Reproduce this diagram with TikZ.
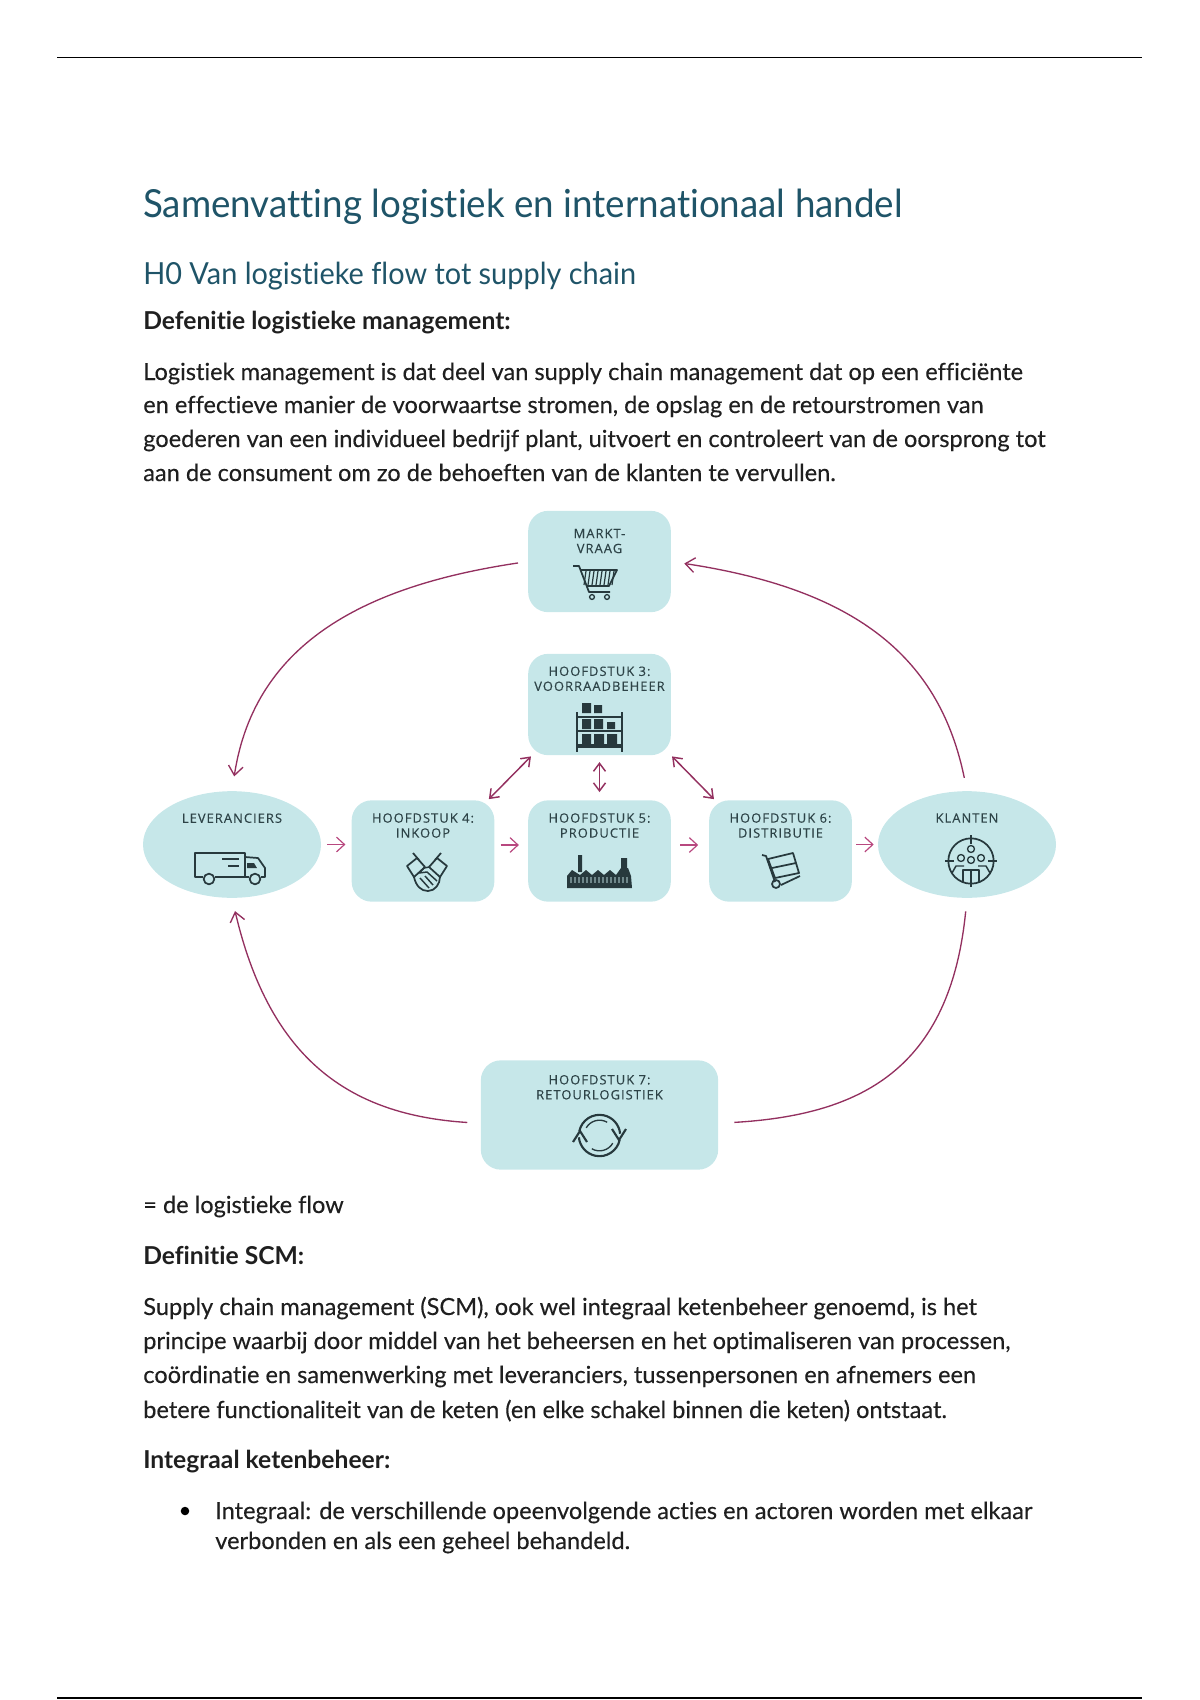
\documentclass[tikz,border=0pt]{standalone}
\usepackage{fontspec}
\setmainfont[Ligatures=NoCommon]{Lato}
\newfontfamily\bodyfont[Ligatures=NoCommon,FakeBold=0.25]{Lato}
\newfontfamily\titlefont[Ligatures=NoCommon,FakeStretch=0.95]{Lato}
\newfontfamily\labelfont[LetterSpace=8,FakeBold=0.25]{Open Sans}
\usepackage{xcolor}
\usetikzlibrary{arrows.meta, positioning, shapes.geometric}
\definecolor{headblue}{HTML}{1F5468}
\definecolor{boxteal}{HTML}{C6E7E9}
\definecolor{flowred}{HTML}{93305F}
\definecolor{stepred}{HTML}{B8487F}
\definecolor{icondark}{HTML}{27393D}
\definecolor{labeldark}{HTML}{2D4347}
\tikzset{
  bodyline/.style={anchor=base west,inner sep=0,text=black!88,font=\bodyfont\fontsize{17.7}{20}\selectfont},
  boldline/.style={bodyline,font=\fontsize{18.5}{20}\selectfont\bfseries},
  headline/.style={bodyline,text=headblue},
  stepbox/.style={draw=none,fill=boxteal,rounded corners=15pt,inner sep=0,minimum width=107pt,minimum height=76pt},
  roundnode/.style={ellipse,fill=boxteal,inner sep=0,minimum width=133.5pt,minimum height=80pt},
  boxlabel/.style={inner sep=0,align=center,text=labeldark,font=\labelfont\fontsize{9.7}{11.25}\selectfont},
  flowarrow/.style={-{Straight Barb[length=7pt,width=11pt]},flowred,line width=1pt},
  sidearrow/.style={{Straight Barb[length=6pt,width=9pt]}-{Straight Barb[length=6pt,width=9pt]},flowred,line width=1.1pt},
  steparrow/.style={-{Straight Barb[length=6pt,width=11pt]},stepred,line width=0.9pt},
  icon/.style={draw=icondark,line width=1.3pt,line join=round},
  iconfill/.style={fill=icondark,draw=none}
}
\begin{document}
\begin{tikzpicture}[x=0.75pt,y=-0.75pt]
  \useasboundingbox (0,0) rectangle (1200,1700);
  % page rules
  \draw[line width=1.4pt] (57,57.5)--(1142,57.5);
  \draw[line width=1.4pt] (57,1698)--(1142,1698);
  % headings
  \node[headline,font=\titlefont\fontsize{29}{34}\selectfont] (title) at (143,217) {Samenvatting logistiek en internationaal handel};
  \node[headline,font=\titlefont\fontsize{22.8}{28}\selectfont] (subtitle) at (143,284) {H0 Van logistieke flow tot supply chain};
  \node[boldline] (defone) at (143,329.5) {Defenitie logistieke management:};
  % first paragraph
  \node[bodyline] (paraa) at (143,380) {Logistiek management is dat deel van supply chain management dat op een efficiënte};
  \node[bodyline] (parab) at (143,413) {en effectieve manier de voorwaartse stromen, de opslag en de retourstromen van};
  \node[bodyline] (parac) at (143,447) {goederen van een individueel bedrijf plant, uitvoert en controleert van de oorsprong tot};
  \node[bodyline] (parad) at (143,481) {aan de consument om zo de behoeften van de klanten te vervullen.};
  % boxes
  \node[stepbox] (markt) at (599.5,561.5) {};
  \node[stepbox] (voorraad) at (599.5,704.5) {};
  \node[stepbox] (inkoop) at (423,851) {};
  \node[stepbox] (productie) at (599.5,851) {};
  \node[stepbox] (distributie) at (780.5,851) {};
  \node[stepbox,minimum width=178pt,minimum height=82pt] (retour) at (599.5,1115) {};
  \node[roundnode] (leveranciers) at (232,844.5) {};
  \node[roundnode] (klanten) at (967,844.5) {};
  % box labels
  \node[boxlabel,below=13.5pt of markt.north] (marktlabel) {MARKT-\\VRAAG};
  \node[boxlabel,below=9.5pt of voorraad.north] (voorraadlabel) {HOOFDSTUK 3:\\VOORRAADBEHEER};
  \node[boxlabel,below=9.7pt of inkoop.north] (inkooplabel) {HOOFDSTUK 4:\\INKOOP};
  \node[boxlabel,below=9.7pt of productie.north] (productielabel) {HOOFDSTUK 5:\\PRODUCTIE};
  \node[boxlabel,below=9.7pt of distributie.north] (distributielabel) {HOOFDSTUK 6:\\DISTRIBUTIE};
  \node[boxlabel,below=11pt of retour.north] (retourlabel) {HOOFDSTUK 7:\\RETOURLOGISTIEK};
  \node[boxlabel,below=16.7pt of leveranciers.north] (leverancierslabel) {LEVERANCIERS};
  \node[boxlabel,below=16.7pt of klanten.north] (klantenlabel) {KLANTEN};
  % long flow
  \draw[flowarrow,shorten <=7.5pt,shorten >=11pt] (markt.west) .. controls (370,585) and (255,640) .. (leveranciers.north);
  \draw[flowarrow,shorten <=10pt,shorten >=10pt] (klanten.north) .. controls (940,660) and (860,590) .. (markt.east);
  \draw[flowred,line width=1pt,shorten <=10pt,shorten >=12pt] (klanten.south) .. controls (950,1070) and (860,1115) .. (retour.-4);
  \draw[flowarrow,shorten <=10pt,shorten >=10pt] (retour.184) .. controls (350,1115) and (270,1060) .. (leveranciers.south);
  % short arrows in the row
  \draw[steparrow,shorten <=4.5pt,shorten >=4.5pt] (leveranciers.east) -- (leveranciers.east -| inkoop.west);
  \draw[steparrow,shorten <=4.5pt,shorten >=6.75pt] ([yshift=4.5pt]inkoop.east) -- ([yshift=4.5pt]productie.west);
  \draw[steparrow,shorten <=6.75pt,shorten >=8pt] ([yshift=4.5pt]productie.east) -- ([yshift=4.5pt]distributie.west);
  \draw[steparrow,shorten <=3pt,shorten >=3pt] (klanten.west -| distributie.east) -- (klanten.west);
  % to and from the stock box
  \draw[sidearrow,shorten <=5pt,shorten >=6pt] (voorraad) -- (productie);
  \draw[sidearrow,shorten <=1pt,shorten >=1pt] ([xshift=-5pt]inkoop.north east) -- ([xshift=3pt]voorraad.south west);
  \draw[sidearrow,shorten <=1pt,shorten >=1pt] ([xshift=4.5pt]distributie.north west) -- (voorraad.south east);
  % cart
  \draw[icon] (573,566)--(579,566)--(589,592)--(610,592);
  \draw[icon] (581,570)--(617,570)--(609,586)--(586,586);
  \foreach \hx in {586,590,594,598,602,606,610,614}
    \draw[icon,line width=0.9pt] (\hx,571)--(\hx-2,585);
  \draw[icon,line width=1pt] (592,597) circle (1.8pt) (607,597) circle (1.8pt);
  % shelf
  \draw[icon,line width=1.6pt] (577,712)--(577,752) (622,712)--(622,752);
  \draw[icon,line width=1.5pt] (577,717)--(622,717) (577,731)--(622,731);
  \draw[icon,line width=2.6pt] (577,746)--(622,746);
  \fill[iconfill] (582,703) rectangle (591,713) (594,705) rectangle (602,713)
    (582,719) rectangle (591,729) (594,719) rectangle (603,729) (607,722) rectangle (615,729)
    (582,734) rectangle (591,745) (594,734) rectangle (604,745) (607,734) rectangle (617,745);
  % truck
  \draw[icon] (245,877)--(245,853)--(195,853)--(195,877)--(203,877) (215,877)--(249,877);
  \draw[icon] (245,857)--(258,858)--(265,868)--(265,877)--(261,877);
  \fill[iconfill] (247,863)--(254,863)--(257,868)--(247,868)--cycle;
  \draw[icon] (222,859)--(239,859) (228,866)--(239,866);
  \draw[icon] (209,879) circle (4pt) (255,879) circle (4pt);
  % handshake
  \draw[icon] (413,853)--(419,860) (441,853)--(435,860);
  \draw[icon] (407,866)--(417,858)--(425,867)--(414,877)--cycle;
  \draw[icon] (447,866)--(437,858)--(429,867)--(440,877)--cycle;
  \draw[icon] (414,877) .. controls (416,886) and (421,891) .. (428,891) .. controls (435,891) and (440,884) .. (440,877);
  \draw[icon,line width=1.1pt] (425,867)--(419,873)--(427,872)--(437,881) (429,867)--(424,868) (420,878)--(429,888) (425,876)--(433,885);
  % factory
  \fill[iconfill] (578,855) rectangle (582,872) (621,858) rectangle (627,872);
  \fill[iconfill] (567,876)--(572,870)--(580,875)--(586,870)--(592,875)--(598,870)--(604,875)--(610,870)--(616,875)--(621,868)--(628,868)--(631,876)--(632,888)--(567,888)--cycle;
  \foreach \fx in {571,575,579,583,587,591,595,599,603,607,611,615,619,623,627}
    \draw[boxteal!45!icondark,line width=0.8pt] (\fx,877)--(\fx,883);
  % hand truck
  \draw[icon] (762,855)--(766,856)--(775,882);
  \draw[icon] (781,885)--(800,876);
  \draw[icon] (776,884) circle (3pt);
  \draw[icon] (768,859)--(793,853)--(799,873)--(775,878)--cycle (772,868)--(796,863);
  % target with people
  \draw[icon] (971,861) circle (17pt);
  \draw[icon] (971,835)--(971,844) (971,878)--(971,887) (945,861)--(954,861) (988,861)--(997,861);
  \draw[icon,line width=1pt] (971,849) circle (2.6pt) (961,858) circle (2.6pt) (981,858) circle (2.6pt) (971,860) circle (2.6pt);
  \draw[icon,line width=1.1pt] (952,873)--(956,866)--(964,866) (990,873)--(986,866)--(978,866);
  \draw[icon] (963,883)--(963,870)--(979,870)--(979,883);
  \draw[icon,line width=0.9pt] (971,870)--(971,883);
  % recycling arrows
  \draw[icon,line width=1.6pt] ([shift={(599.5,1135.5)}]168:15.5pt) arc[start angle=168,end angle=5,radius=15.5pt];
  \draw[icon,line width=1.6pt] ([shift={(599.5,1135.5)}]348:15.5pt) arc[start angle=348,end angle=185,radius=15.5pt];
  \draw[icon,line width=1pt] ([shift={(599.5,1135.5)}]150:11.5pt) arc[start angle=150,end angle=60,radius=11.5pt];
  \draw[icon,line width=1pt] ([shift={(599.5,1135.5)}]330:11.5pt) arc[start angle=330,end angle=240,radius=11.5pt];
  \draw[icon,line width=1.6pt,line join=miter] (612,1129)--(619,1140)--(626,1129) (573,1142)--(580,1131)--(587,1142);
  % text under the diagram
  \node[bodyline] (flowline) at (143,1213) {= de logistieke flow};
  \node[boldline] (deftwo) at (143,1264) {Definitie SCM:};
  \node[bodyline] (parae) at (143,1315) {Supply chain management (SCM), ook wel integraal ketenbeheer genoemd, is het};
  \node[bodyline] (paraf) at (143,1349) {principe waarbij door middel van het beheersen en het optimaliseren van processen,};
  \node[bodyline] (parag) at (143,1383) {coördinatie en samenwerking met leveranciers, tussenpersonen en afnemers een};
  \node[bodyline] (parah) at (143,1418) {betere functionaliteit van de keten (en elke schakel binnen die keten) ontstaat.};
  \node[boldline] (defthree) at (143,1468) {Integraal ketenbeheer:};
  \fill (185,1511) circle (3.2pt);
  \node[bodyline] (itema) at (215,1519) {Integraal: de verschillende opeenvolgende acties en actoren worden met elkaar};
  \node[bodyline] (itemb) at (215,1549) {verbonden en als een geheel behandeld.};
\end{tikzpicture}
\end{document}
